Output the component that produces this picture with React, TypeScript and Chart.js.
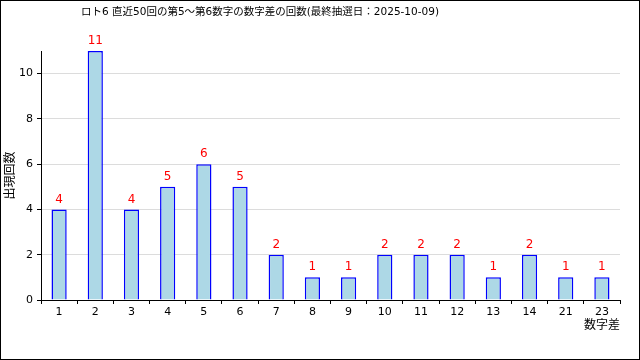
import React, { useEffect, useRef } from "react";
import { Chart, registerables } from "chart.js";

Chart.register(...registerables);

const TITLE = "ロト6 直近50回の第5～第6数字の数字差の回数(最終抽選日：2025-10-09)";
const categories = ["1", "2", "3", "4", "5", "6", "7", "8", "9", "10", "11", "12", "13", "14", "21", "23"];
const counts = [4, 11, 4, 5, 6, 5, 2, 1, 1, 2, 2, 2, 1, 2, 1, 1];
const yTitle = "出現回数";
const xTitle = "数字差";

const FONT = '"DejaVu Sans", "Noto Sans CJK JP", sans-serif';

const extras = {
  id: "extras",
  afterDatasetsDraw(chart: any) {
    const ctx = chart.ctx;
    const meta = chart.getDatasetMeta(0);
    ctx.save();
    ctx.fillStyle = "#ff0000";
    ctx.font = `12px ${FONT}`;
    ctx.textAlign = "center";
    ctx.textBaseline = "bottom";
    meta.data.forEach((el: any, i: number) => {
      ctx.fillText(String(counts[i]), el.x, el.y - 4);
    });
    ctx.restore();
  },
  afterDraw(chart: any) {
    const ctx = chart.ctx;
    ctx.save();
    ctx.fillStyle = "#000";
    ctx.font = `10.5px ${FONT}`;
    ctx.textAlign = "center";
    ctx.textBaseline = "middle";
    ctx.fillText(TITLE, 260, 12);
    ctx.strokeStyle = "#000";
    ctx.lineWidth = 1;
    ctx.strokeRect(0.5, 0.5, 639, 359);
    ctx.restore();
  },
};

export default function App() {
  const ref = useRef<HTMLCanvasElement | null>(null);
  useEffect(() => {
    if (!ref.current) return;
    const chart = new Chart(ref.current, {
      type: "bar",
      data: {
        labels: categories,
        datasets: [
          {
            data: counts,
            backgroundColor: "#add8e6",
            borderColor: "#0000ff",
            borderWidth: 1.5,
            categoryPercentage: 1,
            barPercentage: 0.42,
          },
        ],
      },
      options: {
        responsive: false,
        animation: false,
        layout: { padding: { top: 51, right: 20, left: 0, bottom: 0 } },
        plugins: {
          legend: { display: false },
          title: { display: false },
          tooltip: { enabled: false },
        },
        scales: {
          x: {
            afterFit: (s: any) => {
              s.height = 60;
            },
            grid: {
              display: true,
              offset: true,
              drawOnChartArea: false,
              drawTicks: true,
              tickLength: 4,
              tickColor: "#000",
            },
            border: { color: "#000", width: 1 },
            ticks: { color: "#000", font: { family: FONT, size: 11 }, padding: 2, maxRotation: 0 },
            title: {
              display: true,
              text: xTitle,
              align: "end",
              color: "#000",
              font: { family: FONT, size: 12 },
              padding: { top: 0, bottom: 27 },
            },
          },
          y: {
            min: 0,
            max: 11,
            afterFit: (s: any) => {
              s.width = 41;
            },
            afterBuildTicks: (s: any) => {
              s.ticks = s.ticks.filter((t: any) => t.value % 2 === 0);
            },
            grid: {
              color: "#dcdcdc",
              tickColor: "#000",
              tickLength: 4,
            },
            border: { color: "#000", width: 1 },
            ticks: { stepSize: 2, color: "#000", font: { family: FONT, size: 11 }, padding: 4 },
            title: {
              display: true,
              text: yTitle,
              color: "#000",
              font: { family: FONT, size: 12 },
              padding: { top: 4, bottom: 0 },
            },
          },
        },
      },
      plugins: [extras],
    });
    return () => chart.destroy();
  }, []);
  return (
    <div style={{ position: "absolute", left: 0, top: 0, width: 640, height: 360, background: "#fff" }}>
      <canvas ref={ref} width={640} height={360} style={{ display: "block" }} />
    </div>
  );
}
